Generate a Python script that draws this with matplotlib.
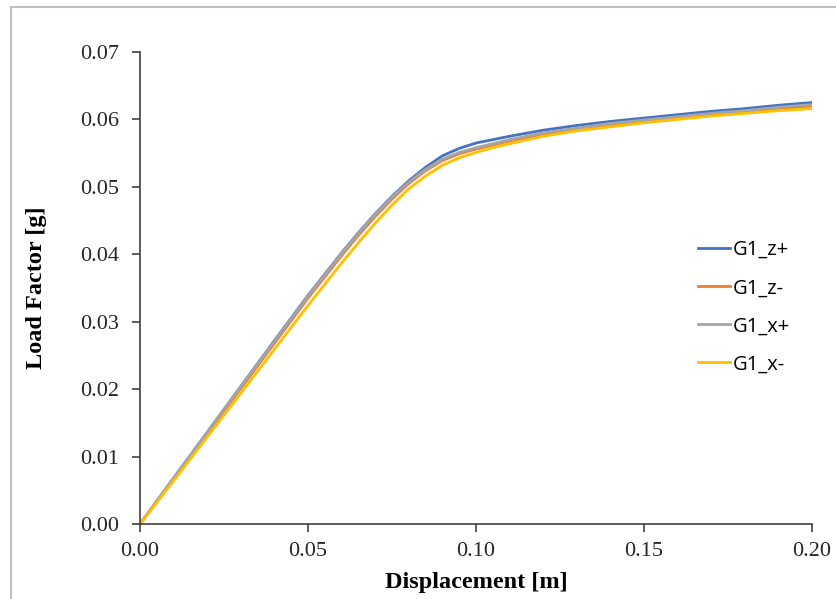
import numpy as np
import matplotlib.pyplot as plt
from matplotlib.patches import Rectangle

# values
disp = [0, 0.01, 0.02, 0.03, 0.04, 0.05, 0.06, 0.065, 0.07, 0.075, 0.08, 0.085, 0.09, 0.095,
        0.10, 0.105, 0.11, 0.12, 0.13, 0.14, 0.15, 0.16, 0.17, 0.18, 0.19, 0.20]
z_plus = [0, 0.0068, 0.0136, 0.0204, 0.0272, 0.0339, 0.0402, 0.0432, 0.0460, 0.0486, 0.0509, 0.0529,
          0.0546, 0.0557, 0.0565, 0.0570, 0.0575, 0.0584, 0.0591, 0.0597, 0.0602, 0.0607, 0.0612,
          0.0616, 0.0621, 0.0625]
z_minus = [0, 0.0067, 0.0134, 0.0201, 0.0268, 0.0335, 0.0398, 0.0428, 0.0456, 0.0482, 0.0505, 0.0524,
           0.0539, 0.0549, 0.0556, 0.0562, 0.0568, 0.0578, 0.0585, 0.0591, 0.0597, 0.0602, 0.0607,
           0.0611, 0.0616, 0.0620]
x_plus = [0, 0.0068, 0.0136, 0.0204, 0.0271, 0.0338, 0.0401, 0.0431, 0.0459, 0.0485, 0.0507, 0.0526,
          0.0541, 0.0551, 0.0558, 0.0564, 0.0570, 0.0580, 0.0587, 0.0594, 0.0599, 0.0604, 0.0609,
          0.0613, 0.0618, 0.0622]
x_minus = [0, 0.0064, 0.0129, 0.0194, 0.0259, 0.0324, 0.0387, 0.0417, 0.0446, 0.0473, 0.0497, 0.0516,
           0.0532, 0.0543, 0.0551, 0.0558, 0.0564, 0.0575, 0.0583, 0.0589, 0.0595, 0.0600, 0.0605,
           0.0609, 0.0613, 0.0616]

labels = ['G1_z+', 'G1_z-', 'G1_x+', 'G1_x-']
colors = ['#4472C4', '#ED7D31', '#A5A5A5', '#FFC000']

fig = plt.figure(figsize=(8.37, 5.99), dpi=100)
ax = fig.add_axes([0.1673, 0.1252, 0.8027, 0.788])

for ys, lab, c in zip([z_plus, z_minus, x_plus, x_minus], labels, colors):
    ax.plot(disp, ys, color=c, lw=2.0, label=lab)

ax.set_xlim(0, 0.20)
ax.set_ylim(0, 0.07)
ax.set_xticks(np.arange(0, 0.201, 0.05))
ax.set_yticks(np.arange(0, 0.0701, 0.01))
ax.xaxis.set_major_formatter(plt.FormatStrFormatter('%.2f'))
ax.yaxis.set_major_formatter(plt.FormatStrFormatter('%.2f'))

for s in ['top', 'right']:
    ax.spines[s].set_visible(False)
for s in ['left', 'bottom']:
    ax.spines[s].set_color('#404040')
    ax.spines[s].set_linewidth(1.2)
ax.tick_params(direction='out', length=6, width=1.2, color='#404040',
               labelcolor='#262626', labelsize=16, pad=7)
ax.tick_params(axis='y', pad=9)
for t in ax.get_xticklabels() + ax.get_yticklabels():
    t.set_fontfamily('Liberation Serif')

ax.set_xlabel('Displacement [m]', fontfamily='Liberation Serif', fontweight='bold',
              fontsize=17.5, labelpad=8)
ax.set_ylabel('Load Factor [g]', fontfamily='Liberation Serif', fontweight='bold',
              fontsize=17.5, labelpad=24)

leg = ax.legend(loc='center left', bbox_to_anchor=(0.815, 0.459), frameon=False,
                prop={'family': 'Open Sans', 'size': 14.5}, handlelength=1.6,
                handletextpad=0.15, labelspacing=0.9, borderpad=0)

# thin outer frame of the chart area
fig.add_artist(Rectangle((11 / 837, -0.05), 1.2, 1 - 7 / 599 + 0.05,
                         transform=fig.transFigure, fill=False,
                         edgecolor='#c0c0c0', lw=1.5))

fig.savefig('out.png', dpi=100)
